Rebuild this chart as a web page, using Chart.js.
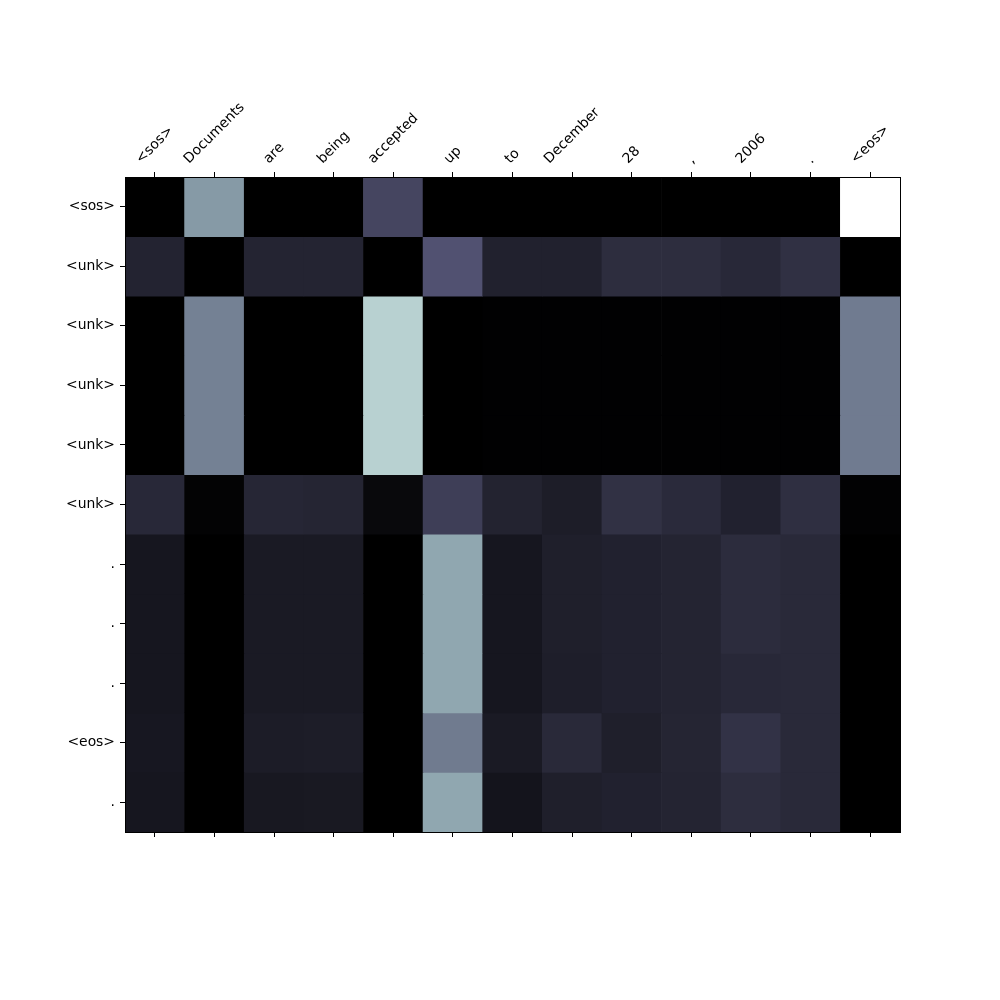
<!DOCTYPE html>
<html>
<head>
<meta charset="utf-8">
<script src="https://cdn.jsdelivr.net/npm/chart.js@4/dist/chart.umd.min.js"></script>
<style>
  html, body { margin: 0; padding: 0; background: #fff; }
  canvas { display: block; }
</style>
</head>
<body>
<canvas id="attn" width="1000" height="1000"></canvas>
<script>
// source tokens (columns) and output tokens (rows)
const colLabels = ['<sos>', 'Documents', 'are', 'being', 'accepted', 'up', 'to', 'December', '28', ',', '2006', '.', '<eos>'];
const rowLabels = ['<sos>', '<unk>', '<unk>', '<unk>', '<unk>', '<unk>', '.', '.', '.', '<eos>', '.'];

// attention weights, one array per output row
const row0  = [0, 0.60, 0, 0, 0.31, 0, 0, 0, 0, 0, 0, 0, 1.0];
const row1  = [0.157, 0, 0.16, 0.16, 0, 0.363, 0.148, 0.148, 0.20, 0.20, 0.18, 0.215, 0];
const row2  = [0, 0.52, 0, 0, 0.796, 0, 0.005, 0.005, 0.005, 0.005, 0.005, 0.005, 0.502];
const row3  = [0, 0.52, 0, 0, 0.796, 0, 0.005, 0.005, 0.005, 0.005, 0.005, 0.005, 0.502];
const row4  = [0, 0.52, 0, 0, 0.796, 0, 0.005, 0.005, 0.005, 0.005, 0.005, 0.005, 0.502];
const row5  = [0.18, 0.012, 0.17, 0.165, 0.04, 0.28, 0.155, 0.13, 0.22, 0.19, 0.15, 0.21, 0.01];
const row6  = [0.10, 0, 0.115, 0.115, 0, 0.645, 0.10, 0.14, 0.15, 0.16, 0.195, 0.185, 0];
const row7  = [0.10, 0, 0.115, 0.115, 0, 0.645, 0.10, 0.14, 0.15, 0.16, 0.195, 0.185, 0];
const row8  = [0.10, 0, 0.115, 0.115, 0, 0.645, 0.10, 0.135, 0.15, 0.16, 0.18, 0.185, 0];
const row9  = [0.105, 0, 0.125, 0.13, 0, 0.50, 0.115, 0.185, 0.14, 0.165, 0.225, 0.185, 0];
const row10 = [0.10, 0, 0.107, 0.11, 0, 0.645, 0.09, 0.14, 0.15, 0.16, 0.20, 0.185, 0];

const weights = [row0, row1, row2, row3, row4, row5, row6, row7, row8, row9, row10];

// matplotlib 'bone' colormap
function interp(pts, v) {
    for (let i = 1; i < pts.length; i++) {
        if (v <= pts[i][0]) {
            const t = (v - pts[i - 1][0]) / (pts[i][0] - pts[i - 1][0]);
            return pts[i - 1][1] + t * (pts[i][1] - pts[i - 1][1]);
        }
    }
    return pts[pts.length - 1][1];
}
const boneR = [[0, 0], [0.746032, 0.652778], [1, 1]];
const boneG = [[0, 0], [0.365079, 0.319444], [0.746032, 0.777778], [1, 1]];
const boneB = [[0, 0], [0.365079, 0.444444], [1, 1]];
function bone(v) {
    v = Math.max(0, Math.min(1, v));
    const r = Math.round(interp(boneR, v) * 255);
    const g = Math.round(interp(boneG, v) * 255);
    const b = Math.round(interp(boneB, v) * 255);
    return 'rgb(' + r + ',' + g + ',' + b + ')';
}

const FONT = { family: 'DejaVu Sans', size: 13.9 };

// one floating-bar dataset per row
const datasets = weights.map(function (row, r) {
    return {
        label: rowLabels[r],
        data: row.map(function () { return [r, r + 1]; }),
        backgroundColor: row.map(bone),
        borderWidth: 0,
        grouped: false,
        barPercentage: 1,
        categoryPercentage: 1,
        xAxisID: 'x',
        yAxisID: 'y'
    };
});

// top labels rotated 45deg, centred on the tick like matplotlib
const topLabels = {
    id: 'topLabels',
    afterDraw: function (chart) {
        const xs = chart.scales.x;
        const ctx = chart.ctx;
        const bottomY = chart.chartArea.top - 10;
        const h = 16;
        ctx.save();
        ctx.font = FONT.size + 'px "' + FONT.family + '"';
        ctx.fillStyle = '#000';
        ctx.textAlign = 'center';
        ctx.textBaseline = 'middle';
        colLabels.forEach(function (lab, i) {
            const w = ctx.measureText(lab).width;
            const cx = xs.getPixelForValue(i);
            const cy = bottomY - (w + h) * Math.SQRT1_2 / 2;
            ctx.save();
            ctx.translate(cx, cy);
            ctx.rotate(-Math.PI / 4);
            ctx.fillText(lab, 0, 0);
            ctx.restore();
        });
        ctx.restore();
    }
};

// spines and tick marks go above the cells
const tickGrid = { offset: false, drawOnChartArea: false, color: '#000', tickLength: 5, lineWidth: 1, z: 1 };
const spine = { color: '#000', width: 1, z: 1 };

const ctx = document.getElementById('attn').getContext('2d');
new Chart(ctx, {
    type: 'bar',
    data: { labels: colLabels, datasets: datasets },
    options: {
        responsive: false,
        animation: false,
        layout: { padding: 0 },
        plugins: { legend: { display: false }, tooltip: { enabled: false } },
        scales: {
            x: {
                type: 'category',
                position: 'top',
                offset: true,
                z: 1,
                grid: tickGrid,
                border: spine,
                ticks: { callback: function () { return ''; }, autoSkip: false, maxRotation: 0 },
                afterFit: function (s) { s.height = 177; }
            },
            xb: {
                type: 'category',
                position: 'bottom',
                labels: colLabels,
                offset: true,
                z: 1,
                grid: tickGrid,
                border: spine,
                ticks: { callback: function () { return ''; }, autoSkip: false, maxRotation: 0 },
                afterFit: function (s) { s.height = 168; }
            },
            y: {
                type: 'linear',
                position: 'left',
                min: 0,
                max: rowLabels.length,
                reverse: true,
                z: 1,
                grid: { drawOnChartArea: false, color: '#000', tickLength: 5, lineWidth: 1, z: 1 },
                border: spine,
                afterBuildTicks: function (s) {
                    s.ticks = rowLabels.map(function (_, i) { return { value: i + 0.5 }; });
                },
                ticks: {
                    autoSkip: false,
                    padding: 5,
                    color: '#000',
                    font: FONT,
                    callback: function (v) { return rowLabels[Math.floor(v)]; }
                },
                afterFit: function (s) { s.width = 125; }
            },
            yr: {
                type: 'linear',
                position: 'right',
                min: 0,
                max: rowLabels.length,
                z: 1,
                grid: { drawOnChartArea: false, drawTicks: false, z: 1 },
                border: spine,
                ticks: { display: false },
                afterFit: function (s) { s.width = 100; }
            }
        }
    },
    plugins: [topLabels]
});
</script>
</body>
</html>
